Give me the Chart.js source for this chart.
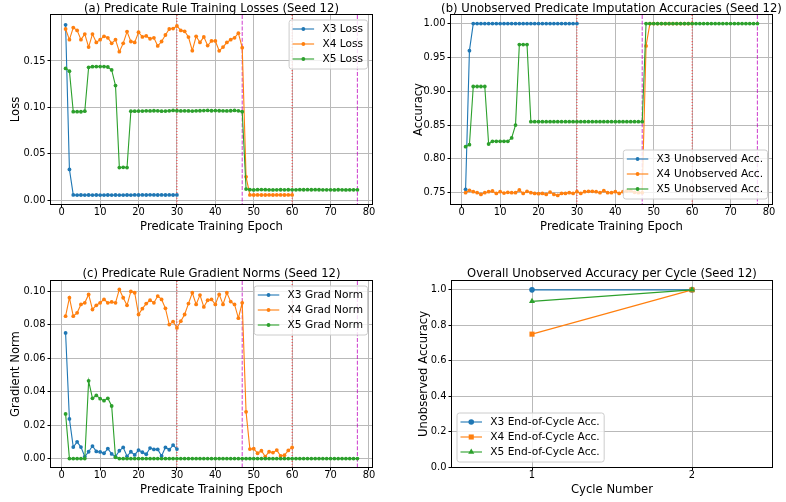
<!DOCTYPE html>
<html>
<head>
<meta charset="utf-8">
<script src="https://cdn.jsdelivr.net/npm/chart.js@4.4.1/dist/chart.umd.min.js"></script>
<style>
	body { margin: 0; background: #ffffff; }
	#page { position: relative; width: 786px; height: 502px; overflow: hidden; }
	.panel { position: absolute; }
</style>
</head>
<body>
<div id="page"></div>
<script>
// every epoch series starts at epoch 1
const lossX3 = [
	0.189, 0.033, 0.0055, 0.0053, 0.0054, 0.0053, 0.0054, 0.0053, 0.0054, 0.0053,
	0.0053, 0.0054, 0.0053, 0.0054, 0.0053, 0.0053, 0.0054, 0.0053, 0.0055, 0.0054,
	0.0055, 0.0054, 0.0056, 0.0055, 0.0054, 0.0055, 0.0054, 0.0055, 0.0054, 0.0055
];
const lossX4 = [
	0.1845, 0.173, 0.186, 0.183, 0.173, 0.179, 0.165, 0.179, 0.170, 0.173,
	0.1766, 0.175, 0.169, 0.173, 0.160, 0.169, 0.1817, 0.171, 0.170, 0.181,
	0.176, 0.177, 0.174, 0.175, 0.1662, 0.171, 0.178, 0.1845, 0.185, 0.1878,
	0.183, 0.182, 0.1758, 0.1611, 0.1766, 0.170, 0.176, 0.1666, 0.1716, 0.1716,
	0.161, 0.165, 0.170, 0.173, 0.175, 0.180, 0.1644, 0.025, 0.0055, 0.0054,
	0.0055, 0.0054, 0.0054, 0.0055, 0.0054, 0.0055, 0.0055, 0.0054, 0.0055, 0.0055
];
const lossX5 = [
	0.142, 0.139, 0.0953, 0.0953, 0.0952, 0.0958, 0.1432, 0.1439, 0.144, 0.144,
	0.144, 0.1435, 0.1403, 0.1235, 0.035, 0.0353, 0.035, 0.0958, 0.0958, 0.096,
	0.096, 0.0962, 0.0961, 0.0963, 0.0962, 0.0958, 0.0959, 0.0962, 0.0967, 0.0963,
	0.0961, 0.0962, 0.0961, 0.0959, 0.0962, 0.0963, 0.0965, 0.0967, 0.0963, 0.0965,
	0.0963, 0.0962, 0.0961, 0.0963, 0.0966, 0.0962, 0.0953, 0.0118, 0.0112, 0.0109,
	0.0112, 0.0113, 0.0112, 0.011, 0.0109, 0.011, 0.0111, 0.011, 0.0111, 0.011,
	0.011, 0.0112, 0.0111, 0.0112, 0.0111, 0.0112, 0.0111, 0.011, 0.011, 0.011,
	0.0109, 0.0111, 0.011, 0.0109, 0.011, 0.011, 0.011
];

const accX3 = [
	0.755, 0.96, 1, 1, 1, 1, 1, 1, 1, 1,
	1, 1, 1, 1, 1, 1, 1, 1, 1, 1,
	1, 1, 1, 1, 1, 1, 1, 1, 1, 1
];
const accX4 = [
	0.750, 0.7535, 0.7515, 0.750, 0.7475, 0.750, 0.7515, 0.7525, 0.749, 0.7515,
	0.7495, 0.7505, 0.750, 0.750, 0.754, 0.749, 0.752, 0.750, 0.749, 0.7485,
	0.749, 0.7475, 0.751, 0.7475, 0.746, 0.749, 0.749, 0.750, 0.749, 0.7515,
	0.749, 0.7515, 0.752, 0.752, 0.7515, 0.750, 0.753, 0.750, 0.750, 0.7515,
	0.749, 0.7515, 0.7525, 0.753, 0.7505, 0.750, 0.750, 0.967, 1, 1,
	1, 1, 1, 1, 1, 1, 1, 1, 1, 1
];
const accX5 = [
	0.818, 0.821, 0.907, 0.907, 0.907, 0.907, 0.822, 0.826, 0.826, 0.826,
	0.826, 0.826, 0.831, 0.850, 0.969, 0.969, 0.969, 0.855, 0.855, 0.855,
	0.855, 0.855, 0.855, 0.855, 0.855, 0.855, 0.855, 0.855, 0.855, 0.855,
	0.855, 0.855, 0.855, 0.855, 0.855, 0.855, 0.855, 0.855, 0.855, 0.855,
	0.855, 0.855, 0.855, 0.855, 0.855, 0.855, 0.855, 1, 1, 1,
	1, 1, 1, 1, 1, 1, 1, 1, 1, 1,
	1, 1, 1, 1, 1, 1, 1, 1, 1, 1,
	1, 1, 1, 1, 1, 1, 1
];

const gradX3 = [
	0.075, 0.0237, 0.0069, 0.010, 0.0069, 0.0012, 0.0041, 0.0075, 0.0043, 0.004,
	0.0032, 0.006, 0.0028, 0.0012, 0.0047, 0.0067, 0.0014, 0.0041, 0.0022, 0.0051,
	0.0038, 0.0026, 0.0063, 0.0055, 0.0055, 0.0016, 0.0067, 0.0053, 0.0081, 0.0057
];
const gradX4 = [
	0.085, 0.096, 0.085, 0.087, 0.092, 0.093, 0.098, 0.089, 0.0915, 0.093,
	0.095, 0.093, 0.0935, 0.093, 0.101, 0.096, 0.0915, 0.0998, 0.099, 0.086,
	0.0895, 0.0925, 0.0945, 0.093, 0.097, 0.095, 0.0897, 0.080, 0.0818, 0.078,
	0.082, 0.086, 0.0925, 0.099, 0.092, 0.0976, 0.0905, 0.0945, 0.095, 0.092,
	0.098, 0.092, 0.099, 0.0937, 0.092, 0.0838, 0.093, 0.0279, 0.0057, 0.0059,
	0.0032, 0.0047, 0.0012, 0.0041, 0.0036, 0.0051, 0.0016, 0.002, 0.0049, 0.0067
];
const gradX5 = [
	0.0267, 0, 0, 0, 0, 0, 0.0464, 0.036, 0.0377, 0.0358,
	0.0346, 0.036, 0.0314, 0.0008, 0, 0, 0, 0, 0, 0,
	0, 0, 0, 0, 0, 0, 0, 0, 0, 0,
	0, 0, 0, 0, 0, 0, 0, 0, 0, 0,
	0, 0, 0, 0, 0, 0, 0, 0, 0, 0,
	0, 0, 0, 0, 0, 0, 0, 0, 0, 0,
	0, 0, 0, 0, 0, 0, 0, 0, 0, 0,
	0, 0, 0, 0, 0, 0, 0
];

const cycleNumbers = [1, 2];
const cycleAccX3 = [1.0, 1.0];
const cycleAccX4 = [0.75, 1.0];
const cycleAccX5 = [0.935, 1.0];

// cycle boundaries drawn as vertical lines
const redLines = [30, 60];
const magentaLines = [47, 77];

const epochTicks = [0, 10, 20, 30, 40, 50, 60, 70, 80];
const lossTicks = [0, 0.05, 0.10, 0.15];
const accTicks = [0.75, 0.80, 0.85, 0.90, 0.95, 1.00];
const gradTicks = [0, 0.02, 0.04, 0.06, 0.08, 0.10];
const cycleTicks = [1, 2];
const cycleAccTicks = [0, 0.2, 0.4, 0.6, 0.8, 1.0];

const BLUE = '#1f77b4';
const ORANGE = '#ff7f0e';
const GREEN = '#2ca02c';
const GRID = '#b9b9b9';
const FONT = 'DejaVu Sans';

Chart.defaults.font.family = FONT;
Chart.defaults.color = '#000000';

function seriesPoints(xs, values) {
	return values.map((v, i) => ({ x: xs[i], y: v }));
}

function epochPoints(values) {
	// epoch numbers are the 1-based position in the series
	return values.map((v, i) => ({ x: i + 1, y: v }));
}

function lineSet(label, points, color, order, style, radius) {
	return {
		label: label,
		data: points,
		borderColor: color,
		backgroundColor: color,
		pointBackgroundColor: color,
		borderWidth: 1.1,
		pointRadius: radius || 1.9,
		pointBorderWidth: 0,
		pointStyle: style || 'circle',
		tension: 0,
		order: order
	};
}

function drawMarker(ctx, style, x, y, r, color) {
	ctx.fillStyle = color;
	ctx.beginPath();
	if (style === 'rect') {
		let h = r * Math.SQRT1_2;
		ctx.rect(x - h, y - h, 2 * h, 2 * h);
	} else if (style === 'triangle') {
		ctx.moveTo(x, y - r);
		ctx.lineTo(x + r * Math.sin(2 * Math.PI / 3), y - r * Math.cos(2 * Math.PI / 3));
		ctx.lineTo(x + r * Math.sin(4 * Math.PI / 3), y - r * Math.cos(4 * Math.PI / 3));
		ctx.closePath();
	} else {
		ctx.arc(x, y, r, 0, Math.PI * 2);
	}
	ctx.fill();
}

function roundBox(ctx, x, y, w, h, r) {
	ctx.beginPath();
	ctx.moveTo(x + r, y);
	ctx.lineTo(x + w - r, y);
	ctx.arcTo(x + w, y, x + w, y + r, r);
	ctx.lineTo(x + w, y + h - r);
	ctx.arcTo(x + w, y + h, x + w - r, y + h, r);
	ctx.lineTo(x + r, y + h);
	ctx.arcTo(x, y + h, x, y + h - r, r);
	ctx.lineTo(x, y + r);
	ctx.arcTo(x, y, x + r, y, r);
	ctx.closePath();
}

// matplotlib style extras: vertical markers, frame, title and inset legend
const panelDecor = {
	id: 'panelDecor',
	beforeDatasetsDraw(chart, args, opts) {
		let ctx = chart.ctx;
		let area = chart.chartArea;
		let xScale = chart.scales.x;
		(opts.vlines || []).forEach(group => {
			ctx.save();
			ctx.strokeStyle = group.color;
			ctx.lineWidth = 1.1;
			ctx.setLineDash(group.dash);
			group.at.forEach(val => {
				let px = xScale.getPixelForValue(val);
				ctx.beginPath();
				ctx.moveTo(px, area.top);
				ctx.lineTo(px, area.bottom);
				ctx.stroke();
			});
			ctx.restore();
		});
	},
	afterDatasetsDraw(chart, args, opts) {
		let ctx = chart.ctx;
		let area = chart.chartArea;
		ctx.save();

		//frame
		ctx.strokeStyle = '#000000';
		ctx.lineWidth = 1;
		ctx.strokeRect(area.left - 0.5, area.top - 0.5, area.right - area.left + 1, area.bottom - area.top + 1);

		//title
		ctx.fillStyle = '#000000';
		ctx.font = '11.6px "' + FONT + '"';
		ctx.textAlign = 'center';
		ctx.textBaseline = 'alphabetic';
		ctx.fillText(opts.title, (area.left + area.right) / 2, area.top - opts.titleGap);

		//legend
		let sets = chart.data.datasets;
		ctx.font = '10.6px "' + FONT + '"';
		let textW = Math.max(...sets.map(d => ctx.measureText(d.label).width));
		let w = 3.5 + 21.5 + 8.3 + textW + 4.5;
		let h = 9 + 15 * (sets.length - 1) + 10;
		let bx = opts.legendLoc.indexOf('right') >= 0 ? area.right - 4.5 - w : area.left + 5;
		let by = opts.legendLoc.indexOf('upper') >= 0 ? area.top + 5 : area.bottom - 5 - h;
		roundBox(ctx, bx, by, w, h, 2.5);
		ctx.fillStyle = 'rgba(255,255,255,0.8)';
		ctx.fill();
		ctx.strokeStyle = '#cccccc';
		ctx.lineWidth = 1;
		ctx.stroke();
		sets.forEach((d, i) => {
			let cy = by + 9 + 15 * i;
			ctx.strokeStyle = d.borderColor;
			ctx.lineWidth = d.borderWidth;
			ctx.beginPath();
			ctx.moveTo(bx + 3.5, cy);
			ctx.lineTo(bx + 25, cy);
			ctx.stroke();
			drawMarker(ctx, d.pointStyle, bx + 14.25, cy, d.pointRadius, d.borderColor);
			ctx.fillStyle = '#000000';
			ctx.textAlign = 'left';
			ctx.textBaseline = 'middle';
			ctx.fillText(d.label, bx + 33.3, cy);
		});
		ctx.restore();
	}
};

function axisOptions(cfg) {
	return {
		type: 'linear',
		min: cfg.min,
		max: cfg.max,
		afterFit: cfg.fit,
		afterBuildTicks: scale => { scale.ticks = cfg.ticks.map(v => ({ value: v })); },
		grid: { color: GRID, lineWidth: 1, drawTicks: true, tickLength: 3.5, tickColor: '#000000', tickWidth: 1 },
		border: { display: false },
		ticks: {
			autoSkip: false,
			maxRotation: 0,
			padding: cfg.tickPad,
			font: { size: 9.9, lineHeight: 1 },
			color: '#000000',
			callback: cfg.format
		},
		title: {
			display: true,
			text: cfg.title,
			color: '#000000',
			font: { size: 11.6 },
			padding: cfg.titlePad
		}
	};
}

function buildPanel(holder, spec) {
	let panelDiv = document.createElement('div');
	holder.appendChild(panelDiv);
	panelDiv.classList.add('panel');
	panelDiv.style.left = spec.box.left + 'px';
	panelDiv.style.top = spec.box.top + 'px';
	let canvas = document.createElement('canvas');
	panelDiv.appendChild(canvas);
	canvas.width = spec.box.width;
	canvas.height = spec.box.height;

	return new Chart(canvas.getContext('2d'), {
		type: 'line',
		data: { datasets: spec.datasets },
		options: {
			responsive: false,
			animation: false,
			devicePixelRatio: 1,
			layout: { padding: { top: spec.area.top, right: spec.box.width - spec.area.right, left: 0, bottom: 0 } },
			plugins: {
				legend: { display: false },
				tooltip: { enabled: false },
				panelDecor: { vlines: spec.vlines, title: spec.title, titleGap: spec.titleGap, legendLoc: spec.legendLoc }
			},
			scales: {
				x: axisOptions({
					min: spec.x.min, max: spec.x.max, ticks: spec.x.ticks, format: spec.x.format,
					title: spec.x.title, tickPad: 0, titlePad: { top: 0, bottom: spec.x.titlePad },
					fit: scale => { scale.height = spec.box.height - spec.area.bottom; }
				}),
				y: axisOptions({
					min: spec.y.min, max: spec.y.max, ticks: spec.y.ticks, format: spec.y.format,
					title: spec.y.title, tickPad: 2, titlePad: { top: spec.y.titlePad, bottom: 0 },
					fit: scale => { scale.width = spec.area.left; }
				})
			}
		},
		plugins: [panelDecor]
	});
}

let epochVlines = [
	{ at: redLines, color: 'rgba(255,0,0,0.7)', dash: [1.1, 1.8] },
	{ at: magentaLines, color: 'rgba(191,0,191,0.7)', dash: [4, 1.7] }
];
let fmt2 = v => v.toFixed(2);
let fmt1 = v => v.toFixed(1);
let fmt0 = v => String(v);
let page = document.getElementById('page');

//(a) losses
buildPanel(page, {
	box: { left: 0, top: 0, width: 393, height: 240 },
	area: { left: 51, right: 372, top: 15, bottom: 204 },
	title: '(a) Predicate Rule Training Losses (Seed 12)',
	titleGap: 3.5,
	legendLoc: 'upper right',
	vlines: epochVlines,
	x: { min: -2.8, max: 80.8, ticks: epochTicks, format: fmt0, title: 'Predicate Training Epoch', titlePad: 5.8 },
	y: { min: -0.0043, max: 0.1996, ticks: lossTicks, format: fmt2, title: 'Loss', titlePad: 9.4 },
	datasets: [
		lineSet('X3 Loss', epochPoints(lossX3), BLUE, 2),
		lineSet('X4 Loss', epochPoints(lossX4), ORANGE, 1),
		lineSet('X5 Loss', epochPoints(lossX5), GREEN, 0)
	]
});

//(b) unobserved accuracies
buildPanel(page, {
	box: { left: 393, top: 0, width: 393, height: 240 },
	area: { left: 58, right: 379, top: 15, bottom: 204 },
	title: '(b) Unobserved Predicate Imputation Accuracies (Seed 12)',
	titleGap: 3.5,
	legendLoc: 'lower right',
	vlines: epochVlines,
	x: { min: -2.8, max: 80.8, ticks: epochTicks, format: fmt0, title: 'Predicate Training Epoch', titlePad: 5.8 },
	y: { min: 0.7333, max: 1.0127, ticks: accTicks, format: fmt2, title: 'Accuracy', titlePad: 19.4 },
	datasets: [
		lineSet('X3 Unobserved Acc.', epochPoints(accX3), BLUE, 2),
		lineSet('X4 Unobserved Acc.', epochPoints(accX4), ORANGE, 1),
		lineSet('X5 Unobserved Acc.', epochPoints(accX5), GREEN, 0)
	]
});

//(c) gradient norms
buildPanel(page, {
	box: { left: 0, top: 240, width: 393, height: 262 },
	area: { left: 51, right: 372, top: 41, bottom: 227 },
	title: '(c) Predicate Rule Gradient Norms (Seed 12)',
	titleGap: 4,
	legendLoc: 'upper right',
	vlines: epochVlines,
	x: { min: -2.8, max: 80.8, ticks: epochTicks, format: fmt0, title: 'Predicate Training Epoch', titlePad: 5.1 },
	y: { min: -0.005, max: 0.106, ticks: gradTicks, format: fmt2, title: 'Gradient Norm', titlePad: 9.4 },
	datasets: [
		lineSet('X3 Grad Norm', epochPoints(gradX3), BLUE, 2),
		lineSet('X4 Grad Norm', epochPoints(gradX4), ORANGE, 1),
		lineSet('X5 Grad Norm', epochPoints(gradX5), GREEN, 0)
	]
});

//(d) end of cycle accuracy
buildPanel(page, {
	box: { left: 393, top: 240, width: 393, height: 262 },
	area: { left: 59, right: 379, top: 41, bottom: 227 },
	title: 'Overall Unobserved Accuracy per Cycle (Seed 12)',
	titleGap: 4,
	legendLoc: 'lower left',
	vlines: [],
	x: { min: 0.5, max: 2.5, ticks: cycleTicks, format: fmt0, title: 'Cycle Number', titlePad: 5.1 },
	y: { min: 0, max: 1.05, ticks: cycleAccTicks, format: fmt1, title: 'Unobserved Accuracy', titlePad: 23.8 },
	datasets: [
		lineSet('X3 End-of-Cycle Acc.', seriesPoints(cycleNumbers, cycleAccX3), BLUE, 2, 'circle', 2.8),
		lineSet('X4 End-of-Cycle Acc.', seriesPoints(cycleNumbers, cycleAccX4), ORANGE, 1, 'rect', 3.6),
		lineSet('X5 End-of-Cycle Acc.', seriesPoints(cycleNumbers, cycleAccX5), GREEN, 0, 'triangle', 3.5)
	]
});
</script>
</body>
</html>
